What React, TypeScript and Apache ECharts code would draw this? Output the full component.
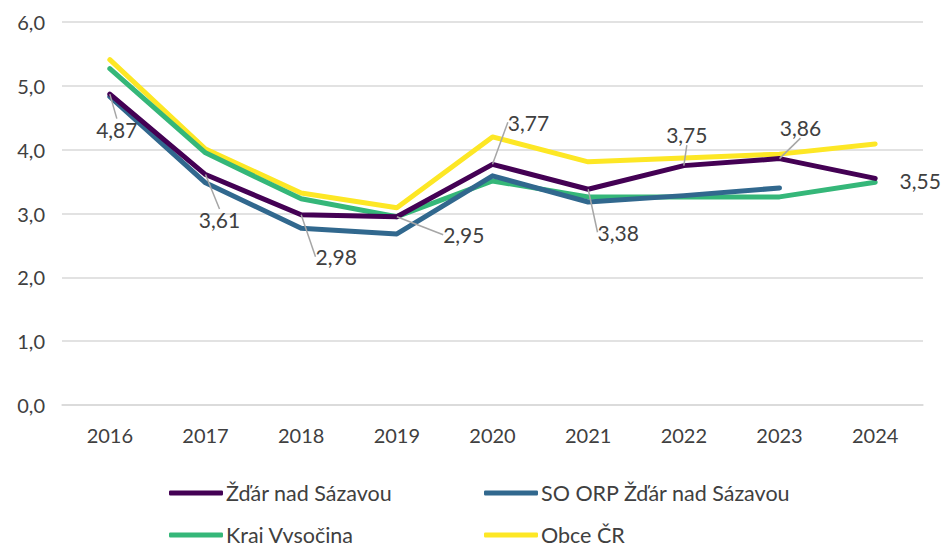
import React, { useEffect, useRef } from "react";
import * as echarts from "echarts";

const years = ["2016", "2017", "2018", "2019", "2020", "2021", "2022", "2023", "2024"];
const zdar = [4.87, 3.61, 2.98, 2.95, 3.77, 3.38, 3.75, 3.86, 3.55];
const soOrp = [4.83, 3.48, 2.77, 2.68, 3.59, 3.18, 3.28, 3.4, null];
const kraj = [5.27, 3.95, 3.23, 2.95, 3.51, 3.26, 3.26, 3.26, 3.49];
const obce = [5.41, 4.01, 3.32, 3.09, 4.2, 3.81, 3.87, 3.93, 4.09];

const names = ["Žďár nad Sázavou", "SO ORP Žďár nad Sázavou", "Kraj Vysočina", "Obce ČR"];
const colors = ["#440154", "#31688E", "#35B779", "#FDE725"];
// label offsets (dx, dy) relative to point, for Žďár series
const labelOffsets = [
  [7, 35], [14, 45], [35, 42], [67, 18], [36, -42], [30, 43], [3, -31], [21, -31], [45, 2],
];
const leaderShown = [true, true, true, true, true, true, true, true, false];

const FONT = "Lato";

export default function App() {
  const ref = useRef<HTMLDivElement>(null);
  useEffect(() => {
    const chart = echarts.init(ref.current!, null, { renderer: "svg" });
    const mk = (i: number, data: any[], z: number) => ({
      name: names[i],
      type: "line",
      data,
      z,
      symbol: "circle",
      symbolSize: 0.01,
      showSymbol: true,
      itemStyle: { color: colors[i] },
      lineStyle: { color: colors[i], width: 5, cap: "round", join: "round" },
      emphasis: { disabled: true },
    });
    const s0: any = mk(
      0,
      zdar.map((v, k) => ({ value: v, labelLine: { show: leaderShown[k] } })),
      5
    );
    s0.label = {
      show: true,
      position: "inside",
      formatter: (p: any) => p.value.toFixed(2).replace(".", ","),
      color: "#404040",
      fontSize: 21,
      fontFamily: FONT,
    };
    s0.labelLine = { show: true, lineStyle: { color: "#A6A6A6", width: 1.5 } };
    s0.labelLayout = (p: any) => {
      const o = labelOffsets[p.dataIndex];
      return { dx: o[0], dy: o[1] };
    };
    const legendBase = (i: number, left: number, top: number) => ({
      data: [{ name: names[i], itemStyle: { color: colors[i], opacity: 1 } }],
      left,
      top,
      icon: "roundRect",
      itemWidth: 54,
      itemHeight: 5,
      itemGap: 0,
      textStyle: { color: "#404040", fontSize: 21.5, fontFamily: FONT, padding: [0, 0, 0, -2] },
      selectedMode: false,
    });
    chart.setOption({
      animation: false,
      color: colors,
      textStyle: { fontFamily: FONT },
      grid: { left: 62, right: 20, top: 22, bottom: 138 },
      legend: [
        legendBase(0, 164, 477),
        legendBase(1, 479, 477),
        legendBase(2, 164, 519),
        legendBase(3, 479, 519),
      ],
      xAxis: {
        type: "category",
        data: years,
        boundaryGap: true,
        axisLine: { show: true, lineStyle: { color: "#D9D9D9", width: 1.5 } },
        axisTick: { show: false },
        axisLabel: { color: "#404040", fontSize: 20, margin: 20, fontFamily: FONT },
      },
      yAxis: {
        type: "value",
        min: 0,
        max: 6,
        interval: 1,
        axisLine: { show: false },
        axisTick: { show: false },
        splitLine: { lineStyle: { color: "#D9D9D9", width: 1.5 } },
        axisLabel: {
          color: "#404040",
          fontSize: 20,
          margin: 17,
          fontFamily: FONT,
          formatter: (v: number) => v.toFixed(1).replace(".", ","),
        },
      },
      series: [s0, mk(1, soOrp, 4), mk(2, kraj, 3), mk(3, obce, 2)],
    });
    return () => chart.dispose();
  }, []);
  return (
    <div
      ref={ref}
      style={{ position: "fixed", left: 0, top: 0, width: 943, height: 543, background: "#fff" }}
    />
  );
}
